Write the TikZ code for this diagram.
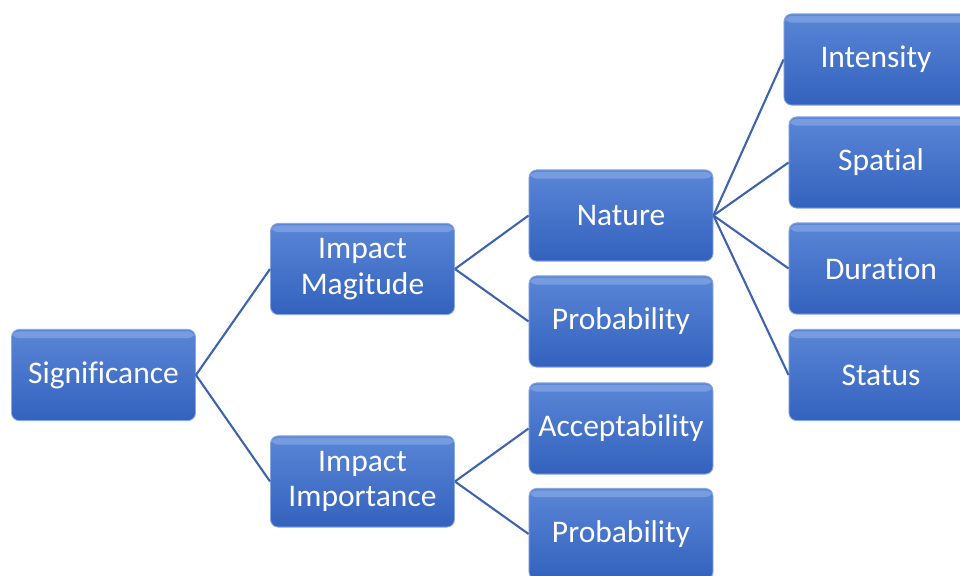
\documentclass[tikz,border=0pt]{standalone}
\usepackage{fontspec}
\setmainfont[Ligatures=NoCommon]{Carlito}
\definecolor{boxtop}{HTML}{5A86D6}
\definecolor{boxbot}{HTML}{3362BE}
\definecolor{boxedge}{HTML}{8AA8E0}
\definecolor{boxhi}{HTML}{9DBBEE}
\definecolor{linkblue}{HTML}{3F64AE}
\begin{document}
\begin{tikzpicture}[
x=0.025cm, y=-0.025cm,
box/.style={rectangle, rounded corners=5.5pt, draw=boxedge, line width=0.6pt,
    top color=boxtop, bottom color=boxbot, text=white, align=center,
    minimum width=4.6cm, minimum height=2.28cm, inner sep=0pt,
    font=\fontsize{22.4}{25.5}\selectfont,
    path picture={\fill[boxhi, opacity=0.45]
        ([yshift=-0.05cm]path picture bounding box.north west) rectangle
        ([yshift=-0.22cm]path picture bounding box.north east);}},
link/.style={draw=linkblue, line width=1.5pt},
]
\useasboundingbox (0,0) rectangle (960,576);
% levels, left to right
\node[box] (sig) at (103.5,375) {Significance};
\node[box] (mag) at (362.5,269) {Impact\\Magitude};
\node[box] (imp) at (362.5,481.5) {Impact\\Importance};
\node[box] (nat) at (621,215.5) {Nature};
\node[box] (prob) at (621,321.5) {Probability};
\node[box] (acc) at (621,428.5) {Acceptability};
\node[box] (probb) at (621,534) {Probability};
\node[box] (int) at (876,59.5) {Intensity};
\node[box] (spa) at (881,162.5) {Spatial};
\node[box] (dur) at (881,268.5) {Duration};
\node[box] (sta) at (881,375) {Status};
% connectors
\draw[link] (sig.east) -- (mag.west);
\draw[link] (sig.east) -- (imp.west);
\draw[link] (mag.east) -- (nat.west);
\draw[link] (mag.east) -- (prob.west);
\draw[link] (imp.east) -- (acc.west);
\draw[link] (imp.east) -- (probb.west);
\foreach \n in {int, spa, dur, sta}
    \draw[link] (nat.east) -- (\n.west);
\end{tikzpicture}
\end{document}
